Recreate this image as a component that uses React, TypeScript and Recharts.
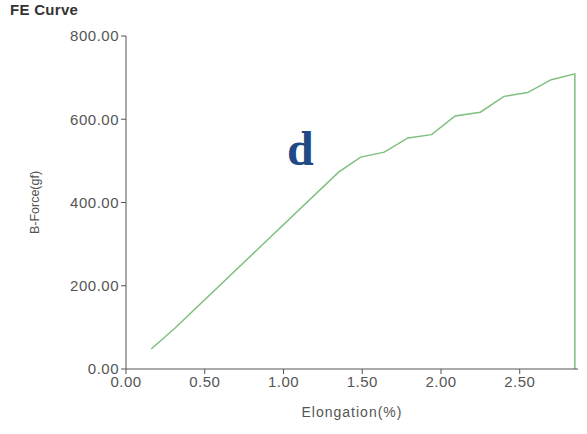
import { LineChart, Line, XAxis, YAxis } from 'recharts';

const elongation = [0.16, 0.31, 1.35, 1.49, 1.64, 1.79, 1.94, 2.09, 2.25, 2.4, 2.55, 2.7, 2.85, 2.85];
const force = [48, 98, 473, 509, 521, 555, 563, 608, 617, 655, 664, 695, 709, 0];
const xTicks = [0, 0.5, 1, 1.5, 2, 2.5];
const yTicks = [0, 200, 400, 600, 800];

const data = elongation.map((e, i) => ({ e, f: force[i] }));

const axisColor = '#555';
const tickStyle = { fontSize: 15, letterSpacing: 0.5, fill: '#555', fontFamily: 'Liberation Sans, Arial, sans-serif' };

export default function App() {
  return (
    <div style={{ position: 'absolute', left: 0, top: 0, width: 587, height: 434, background: '#fff', fontFamily: 'Liberation Sans, Arial, sans-serif' }}>
      <div style={{ position: 'absolute', left: 10, top: 1, fontSize: 15, letterSpacing: 0.3, fontWeight: 'bold', color: '#333' }}>FE Curve</div>
      <div style={{ position: 'absolute', left: 287, top: 121, fontSize: 48, fontWeight: 'bold', color: '#1f4a85', fontFamily: 'Liberation Serif, DejaVu Serif, serif' }}>d</div>
      <LineChart width={587} height={434} data={data} margin={{ top: 36, right: 9, bottom: 0, left: 0 }}>
        <XAxis
          dataKey="e"
          type="number"
          domain={[0, 2.87]}
          ticks={xTicks}
          tickFormatter={(v: number) => v.toFixed(2)}
          tick={tickStyle}
          stroke={axisColor}
          tickSize={5}
          height={65}
          allowDataOverflow
          label={{ value: 'Elongation(%)', position: 'insideBottom', offset: 17, style: { fontSize: 14, letterSpacing: 1, fill: '#555' } }}
        />
        <YAxis
          type="number"
          domain={[0, 800]}
          ticks={yTicks}
          tickFormatter={(v: number) => v.toFixed(2)}
          tick={tickStyle}
          stroke={axisColor}
          tickSize={5}
          width={126}
          label={{ value: 'B-Force(gf)', angle: -90, position: 'insideLeft', offset: 35, style: { fontSize: 12.5, fill: '#555', textAnchor: 'middle' } }}
        />
        <Line dataKey="f" stroke="#7fbf7f" strokeWidth={1.5} dot={false} isAnimationActive={false} />
      </LineChart>
    </div>
  );
}
